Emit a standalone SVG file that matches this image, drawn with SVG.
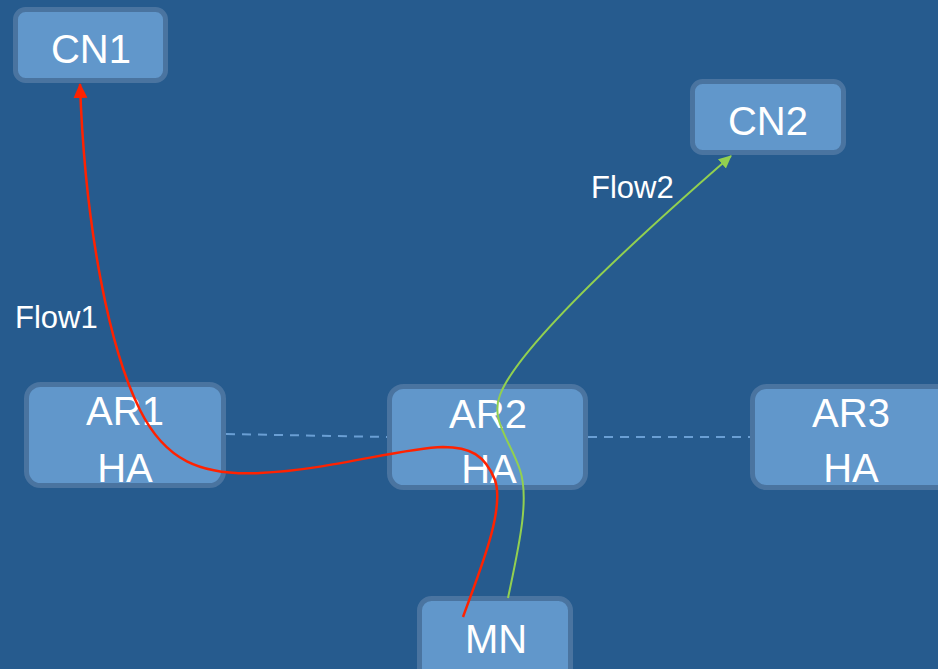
<svg xmlns="http://www.w3.org/2000/svg" width="938" height="669" viewBox="0 0 938 669">
<style>
.box{fill:#6197cb;stroke:#4a74a0;stroke-width:5}
.lbl{font-family:"Liberation Sans",Arial,sans-serif;font-size:40px;fill:#ffffff;text-anchor:middle}
.flow{font-family:"Liberation Sans",Arial,sans-serif;font-size:31px;fill:#ffffff}
.dash{stroke:#6a9fd4;stroke-width:2;stroke-dasharray:9 7;fill:none}
</style>
<defs>
<marker id="ar" markerUnits="userSpaceOnUse" markerWidth="16" markerHeight="16" viewBox="0 0 16 16" refX="14" refY="8" orient="auto">
<path d="M0,1 L15,8 L0,15 Z" fill="#ff2200"/>
</marker>
<marker id="ag" markerUnits="userSpaceOnUse" markerWidth="14" markerHeight="14" viewBox="0 0 14 14" refX="12" refY="7" orient="auto">
<path d="M0,1 L13,7 L0,13 Z" fill="#92d050"/>
</marker>
</defs>
<rect width="938" height="669" fill="#265b8e"/>
<g id="connectors">
<line class="dash" x1="226" y1="434" x2="387" y2="437"/>
<line class="dash" x1="588" y1="437" x2="750" y2="437"/>
</g>
<g id="CN1"><rect class="box" x="15.5" y="9.5" width="150" height="71" rx="10"/><text class="lbl" x="91" y="63">CN1</text></g>
<g id="CN2"><rect class="box" x="692.5" y="81.5" width="151" height="71" rx="10"/><text class="lbl" x="768" y="135">CN2</text></g>
<g id="AR1"><rect class="box" x="26.5" y="384.5" width="197" height="101" rx="14"/><text class="lbl" x="125" y="425">AR1</text><text class="lbl" x="125" y="482">HA</text></g>
<g id="AR2"><rect class="box" x="389.5" y="386.5" width="196" height="101" rx="14"/><text class="lbl" x="488" y="428">AR2</text><text class="lbl" x="489" y="483">HA</text></g>
<g id="AR3"><rect class="box" x="752.5" y="386.5" width="200" height="101" rx="14"/><text class="lbl" x="851" y="427">AR3</text><text class="lbl" x="851" y="482">HA</text></g>
<g id="MN"><rect class="box" x="419.5" y="598.5" width="151" height="85" rx="12"/><text class="lbl" x="496" y="653">MN</text></g>
<g id="flows">
<path d="M463,617 C480,570 505,510 495,480 C485,455 470,447 443,447 C400,448 330,470 260,473 C200,476 165,460 140,410 C110,350 85,230 80,84" fill="none" stroke="#ff2200" stroke-width="2.5" marker-end="url(#ar)"/>
<path d="M508,598 C518,550 530,500 520,470 C510,440 490,420 500,395 C515,355 600,270 731,156" fill="none" stroke="#92d050" stroke-width="2" marker-end="url(#ag)"/>
</g>
<text class="flow" x="15" y="328">Flow1</text>
<text class="flow" x="591" y="198">Flow2</text>
</svg>
